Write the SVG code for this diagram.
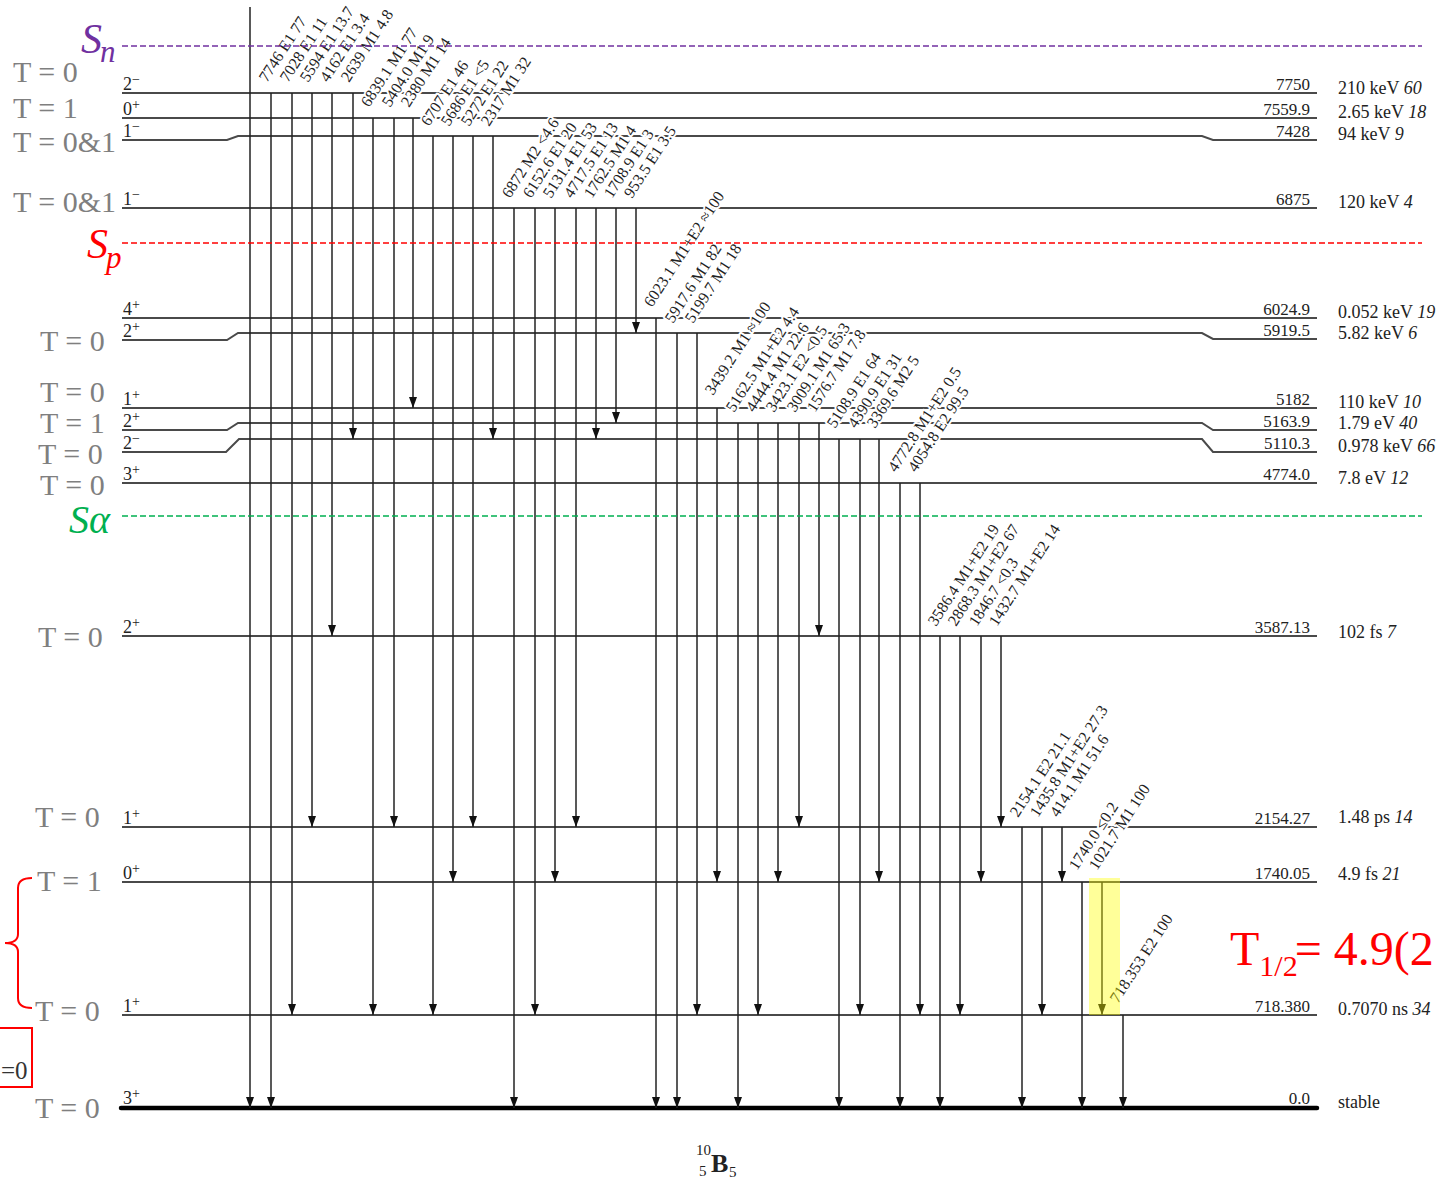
<svg xmlns="http://www.w3.org/2000/svg" width="1446" height="1178" viewBox="0 0 1446 1178">
<style>
.lv{fill:none;stroke:#4a4a4a;stroke-width:2}
.gnd{fill:none;stroke:#000;stroke-width:4.5;stroke-linecap:round}
.tr{stroke:#222;stroke-width:1.5;fill:none;marker-end:url(#ah)}
.gl{font-family:"Liberation Serif",serif;font-size:16px;fill:#222;stroke:#fff;stroke-width:4;paint-order:stroke;stroke-linejoin:round}
.en{font-family:"Liberation Serif",serif;font-size:17px;fill:#222;text-anchor:end}
.inf{font-family:"Liberation Serif",serif;font-size:18px;fill:#222}
.inf tspan.i{font-style:italic}
.jp{font-family:"Liberation Serif",serif;font-size:18px;fill:#222}
.jp tspan{font-size:14px}
.tl{font-family:"Liberation Serif",serif;font-size:30px;fill:#7f7f7f}
.sep{fill:none;stroke-width:1.5;stroke-dasharray:6 3}
.sym{font-family:"Liberation Serif",serif;font-style:italic}
</style>
<defs>
<marker id="ah" viewBox="0 0 11 8" refX="11" refY="4" markerWidth="11" markerHeight="8" markerUnits="userSpaceOnUse" orient="auto">
<path d="M0,0 L11,4 L0,8 z" fill="#111"/>
</marker>
</defs>
<rect width="1446" height="1178" fill="#fff"/>

<!-- T labels -->
<g id="isospin-labels">
<text class="tl" x="13" y="82">T = 0</text>
<text class="tl" x="13" y="118">T = 1</text>
<text class="tl" x="13" y="152">T = 0&amp;1</text>
<text class="tl" x="13" y="212">T = 0&amp;1</text>
<text class="tl" x="40" y="351">T = 0</text>
<text class="tl" x="40" y="402">T = 0</text>
<text class="tl" x="40" y="433">T = 1</text>
<text class="tl" x="38" y="464">T = 0</text>
<text class="tl" x="40" y="495">T = 0</text>
<text class="tl" x="38" y="647">T = 0</text>
<text class="tl" x="35" y="827">T = 0</text>
<text class="tl" x="37" y="891">T = 1</text>
<text class="tl" x="35" y="1021">T = 0</text>
<text class="tl" x="35" y="1118">T = 0</text>
</g>

<!-- Levels -->
<g id="lvl-7750"><path class="lv" d="M122,93 H1317"/><text class="jp" x="123" y="90">2<tspan dy="-6">−</tspan></text><text class="en" x="1310" y="90">7750</text><text class="inf" x="1338" y="94">210 keV <tspan class="i">60</tspan></text></g>
<g id="lvl-7559"><path class="lv" d="M122,118 H1317"/><text class="jp" x="123" y="115">0<tspan dy="-6">+</tspan></text><text class="en" x="1310" y="115">7559.9</text><text class="inf" x="1338" y="118">2.65 keV <tspan class="i">18</tspan></text></g>
<g id="lvl-7428"><path class="lv" d="M122,140 H227 L238,136 H1202 L1213,140 H1317"/><text class="jp" x="123" y="137">1<tspan dy="-6">−</tspan></text><text class="en" x="1310" y="137">7428</text><text class="inf" x="1338" y="140">94 keV <tspan class="i">9</tspan></text></g>
<g id="lvl-6875"><path class="lv" d="M122,208 H1317"/><text class="jp" x="123" y="205">1<tspan dy="-6">−</tspan></text><text class="en" x="1310" y="205">6875</text><text class="inf" x="1338" y="208">120 keV <tspan class="i">4</tspan></text></g>
<g id="lvl-6024"><path class="lv" d="M122,318 H1317"/><text class="jp" x="123" y="315">4<tspan dy="-6">+</tspan></text><text class="en" x="1310" y="315">6024.9</text><text class="inf" x="1338" y="318">0.052 keV <tspan class="i">19</tspan></text></g>
<g id="lvl-5919"><path class="lv" d="M122,340 H227 L238,333 H1202 L1213,339 H1317"/><text class="jp" x="123" y="337">2<tspan dy="-6">+</tspan></text><text class="en" x="1310" y="336">5919.5</text><text class="inf" x="1338" y="339">5.82 keV <tspan class="i">6</tspan></text></g>
<g id="lvl-5182"><path class="lv" d="M122,408 H1317"/><text class="jp" x="123" y="405">1<tspan dy="-6">+</tspan></text><text class="en" x="1310" y="405">5182</text><text class="inf" x="1338" y="408">110 keV <tspan class="i">10</tspan></text></g>
<g id="lvl-5163"><path class="lv" d="M122,430 H227 L238,423 H1202 L1213,430 H1317"/><text class="jp" x="123" y="427">2<tspan dy="-6">+</tspan></text><text class="en" x="1310" y="427">5163.9</text><text class="inf" x="1338" y="429">1.79 eV <tspan class="i">40</tspan></text></g>
<g id="lvl-5110"><path class="lv" d="M122,452 H226 L239,439 H1202 L1213,452 H1317"/><text class="jp" x="123" y="449">2<tspan dy="-6">−</tspan></text><text class="en" x="1310" y="449">5110.3</text><text class="inf" x="1338" y="452">0.978 keV <tspan class="i">66</tspan></text></g>
<g id="lvl-4774"><path class="lv" d="M122,483 H1317"/><text class="jp" x="123" y="480">3<tspan dy="-6">+</tspan></text><text class="en" x="1310" y="480">4774.0</text><text class="inf" x="1338" y="484">7.8 eV <tspan class="i">12</tspan></text></g>
<g id="lvl-3587"><path class="lv" d="M122,636 H1317"/><text class="jp" x="123" y="633">2<tspan dy="-6">+</tspan></text><text class="en" x="1310" y="633">3587.13</text><text class="inf" x="1338" y="638">102 fs <tspan class="i">7</tspan></text></g>
<g id="lvl-2154"><path class="lv" d="M122,827 H1317"/><text class="jp" x="123" y="824">1<tspan dy="-6">+</tspan></text><text class="en" x="1310" y="824">2154.27</text><text class="inf" x="1338" y="823">1.48 ps <tspan class="i">14</tspan></text></g>
<g id="lvl-1740"><path class="lv" d="M122,882 H1317"/><text class="jp" x="123" y="879">0<tspan dy="-6">+</tspan></text><text class="en" x="1310" y="879">1740.05</text><text class="inf" x="1338" y="880">4.9 fs <tspan class="i">21</tspan></text></g>
<g id="lvl-718"><path class="lv" d="M122,1015 H1317"/><text class="jp" x="123" y="1012">1<tspan dy="-6">+</tspan></text><text class="en" x="1310" y="1012">718.380</text><text class="inf" x="1338" y="1015">0.7070 ns <tspan class="i">34</tspan></text></g>
<g id="lvl-0"><path class="gnd" d="M121,1108 H1317"/><text class="jp" x="123" y="1104">3<tspan dy="-6">+</tspan></text><text class="en" x="1310" y="1104">0.0</text><text class="inf" x="1338" y="1108">stable</text></g>

<!-- Transitions -->
<g id="connectors">
<path class="tr" d="M250,7 V1108"/>
<path class="tr" d="M271,93 V1108"/><text class="gl" transform="translate(267,83) rotate(-57)">7746 E1 77</text>
<path class="tr" d="M292,93 V1015"/><text class="gl" transform="translate(288,83) rotate(-57)">7028 E1 11</text>
<path class="tr" d="M312,93 V827"/><text class="gl" transform="translate(308,83) rotate(-57)">5594 E1 13.7</text>
<path class="tr" d="M332,93 V636"/><text class="gl" transform="translate(328,83) rotate(-57)">4162 E1 3.4</text>
<path class="tr" d="M353,93 V439"/><text class="gl" transform="translate(349,83) rotate(-57)">2639 M1 4.8</text>
<path class="tr" d="M373,118 V1015"/><text class="gl" transform="translate(369,108) rotate(-57)">6839.1 M1 77</text>
<path class="tr" d="M394,118 V827"/><text class="gl" transform="translate(390,108) rotate(-57)">5404.0 M1 9</text>
<path class="tr" d="M413,118 V408"/><text class="gl" transform="translate(409,108) rotate(-57)">2380 M1 14</text>
<path class="tr" d="M433,136 V1015"/><text class="gl" transform="translate(429,127) rotate(-57)">6707 E1 46</text>
<path class="tr" d="M453,136 V882"/><text class="gl" transform="translate(449,127) rotate(-57)">5686 E1 &lt;5</text>
<path class="tr" d="M473,136 V827"/><text class="gl" transform="translate(469,127) rotate(-57)">5272 E1 22</text>
<path class="tr" d="M493,136 V439"/><text class="gl" transform="translate(489,127) rotate(-57)">2317 M1 32</text>
<path class="tr" d="M514,208 V1108"/><text class="gl" transform="translate(510,199) rotate(-57)">6872 M2 &lt;4.6</text>
<path class="tr" d="M535,208 V1015"/><text class="gl" transform="translate(531,199) rotate(-57)">6152.6 E1 20</text>
<path class="tr" d="M555,208 V882"/><text class="gl" transform="translate(551,199) rotate(-57)">5131.4 E1 53</text>
<path class="tr" d="M576,208 V827"/><text class="gl" transform="translate(572,199) rotate(-57)">4717.5 E1 13</text>
<path class="tr" d="M596,208 V439"/><text class="gl" transform="translate(592,199) rotate(-57)">1762.5 M1 4</text>
<path class="tr" d="M616,208 V423"/><text class="gl" transform="translate(612,199) rotate(-57)">1708.9 E1 3</text>
<path class="tr" d="M636,208 V333"/><text class="gl" transform="translate(632,199) rotate(-57)">953.5 E1 3.5</text>
<path class="tr" d="M656,318 V1108"/><text class="gl" transform="translate(652,308) rotate(-57)">6023.1 M1+E2 ≈100</text>
<path class="tr" d="M677,333 V1108"/><text class="gl" transform="translate(673,324) rotate(-57)">5917.6 M1 82</text>
<path class="tr" d="M697,333 V1015"/><text class="gl" transform="translate(693,324) rotate(-57)">5199.7 M1 18</text>
<path class="tr" d="M717,408 V882"/><text class="gl" transform="translate(713,396) rotate(-57)">3439.2 M1 ≈100</text>
<path class="tr" d="M738,423 V1108"/><text class="gl" transform="translate(734,413) rotate(-57)">5162.5 M1+E2 4.4</text>
<path class="tr" d="M758,423 V1015"/><text class="gl" transform="translate(754,413) rotate(-57)">4444.4 M1 22.6</text>
<path class="tr" d="M778,423 V882"/><text class="gl" transform="translate(774,413) rotate(-57)">3423.1 E2 &lt;0.5</text>
<path class="tr" d="M799,423 V827"/><text class="gl" transform="translate(795,413) rotate(-57)">3009.1 M1 65.3</text>
<path class="tr" d="M819,423 V636"/><text class="gl" transform="translate(815,413) rotate(-57)">1576.7 M1 7.8</text>
<path class="tr" d="M839,439 V1108"/><text class="gl" transform="translate(835,429) rotate(-57)">5108.9 E1 64</text>
<path class="tr" d="M860,439 V1015"/><text class="gl" transform="translate(856,429) rotate(-57)">4390.9 E1 31</text>
<path class="tr" d="M879,439 V882"/><text class="gl" transform="translate(875,429) rotate(-57)">3369.6 M2 5</text>
<path class="tr" d="M900,483 V1108"/><text class="gl" transform="translate(896,473) rotate(-57)">4772.8 M1+E2 0.5</text>
<path class="tr" d="M920,483 V1015"/><text class="gl" transform="translate(916,473) rotate(-57)">4054.8 E2 99.5</text>
<path class="tr" d="M940,636 V1108"/><text class="gl" transform="translate(936,627) rotate(-57)">3586.4 M1+E2 19</text>
<path class="tr" d="M960,636 V1015"/><text class="gl" transform="translate(956,627) rotate(-57)">2868.3 M1+E2 67</text>
<path class="tr" d="M981,636 V882"/><text class="gl" transform="translate(977,627) rotate(-57)">1846.7 &lt;0.3</text>
<path class="tr" d="M1001,636 V827"/><text class="gl" transform="translate(997,627) rotate(-57)">1432.7 M1+E2 14</text>
<path class="tr" d="M1022,827 V1108"/><text class="gl" transform="translate(1018,818) rotate(-57)">2154.1 E2 21.1</text>
<path class="tr" d="M1042,827 V1015"/><text class="gl" transform="translate(1038,818) rotate(-57)">1435.8 M1+E2 27.3</text>
<path class="tr" d="M1062,827 V882"/><text class="gl" transform="translate(1058,818) rotate(-57)">414.1 M1 51.6</text>
<path class="tr" d="M1082,882 V1108"/><text class="gl" transform="translate(1077,871) rotate(-57)">1740.0 ≤0.2</text>
<path class="tr" d="M1102,882 V1015"/><text class="gl" transform="translate(1097,871) rotate(-57)">1021.7 M1 100</text>
<path class="tr" d="M1123,1015 V1108"/><text class="gl" transform="translate(1118,1004) rotate(-57)">718.353 E2 100</text>
</g>

<!-- separation energies -->
<g id="Sn">
<path class="sep" stroke="#7030a0" d="M122,46 H1422"/>
<text class="sym" x="81" y="53" font-size="42" fill="#7030a0">S</text>
<text class="sym" x="100" y="62" font-size="31" fill="#7030a0">n</text>
</g>
<g id="Sp">
<path class="sep" stroke="#ff0000" d="M122,243 H1422"/>
<text class="sym" x="87" y="258" font-size="42" fill="#ff0000">S</text>
<text class="sym" x="106" y="268" font-size="31" fill="#ff0000">p</text>
</g>
<g id="Sa">
<path class="sep" stroke="#00b050" d="M122,516 H1422"/>
<text class="sym" x="69" y="533" font-size="40" fill="#00b050">Sα</text>
</g>

<!-- highlight -->
<rect id="highlight" x="1089" y="878" width="31" height="137" fill="#ffff00" fill-opacity="0.4"/>

<!-- annotations -->
<g id="brace">
<path d="M32,878 Q18,878 18,888 L18,934 Q18,943 5,943 Q18,943 18,952 L18,998 Q18,1008 32,1008" fill="none" stroke="#ff0000" stroke-width="2"/>
</g>
<g id="boxed">
<rect x="-2" y="1028" width="34" height="59" fill="none" stroke="#ff0000" stroke-width="2"/>
<text x="1" y="1079" font-family="Liberation Serif, serif" font-size="25" fill="#333">=0</text>
</g>
<g id="halflife">
<text x="1230" y="965" font-family="Liberation Serif, serif" font-size="48" fill="#ff0000">T<tspan font-size="30" dy="11">1/2</tspan><tspan dy="-11" dx="-3">= 4.9(2</tspan></text>
</g>
<g id="nuclide">
<text x="696" y="1155" font-family="Liberation Serif, serif" font-size="15" fill="#222">10</text>
<text x="699" y="1176" font-family="Liberation Serif, serif" font-size="15" fill="#222">5</text>
<text x="711" y="1172" font-family="Liberation Serif, serif" font-size="26" font-weight="bold" fill="#222">B</text>
<text x="729" y="1177" font-family="Liberation Serif, serif" font-size="15" fill="#222">5</text>
</g>
</svg>
